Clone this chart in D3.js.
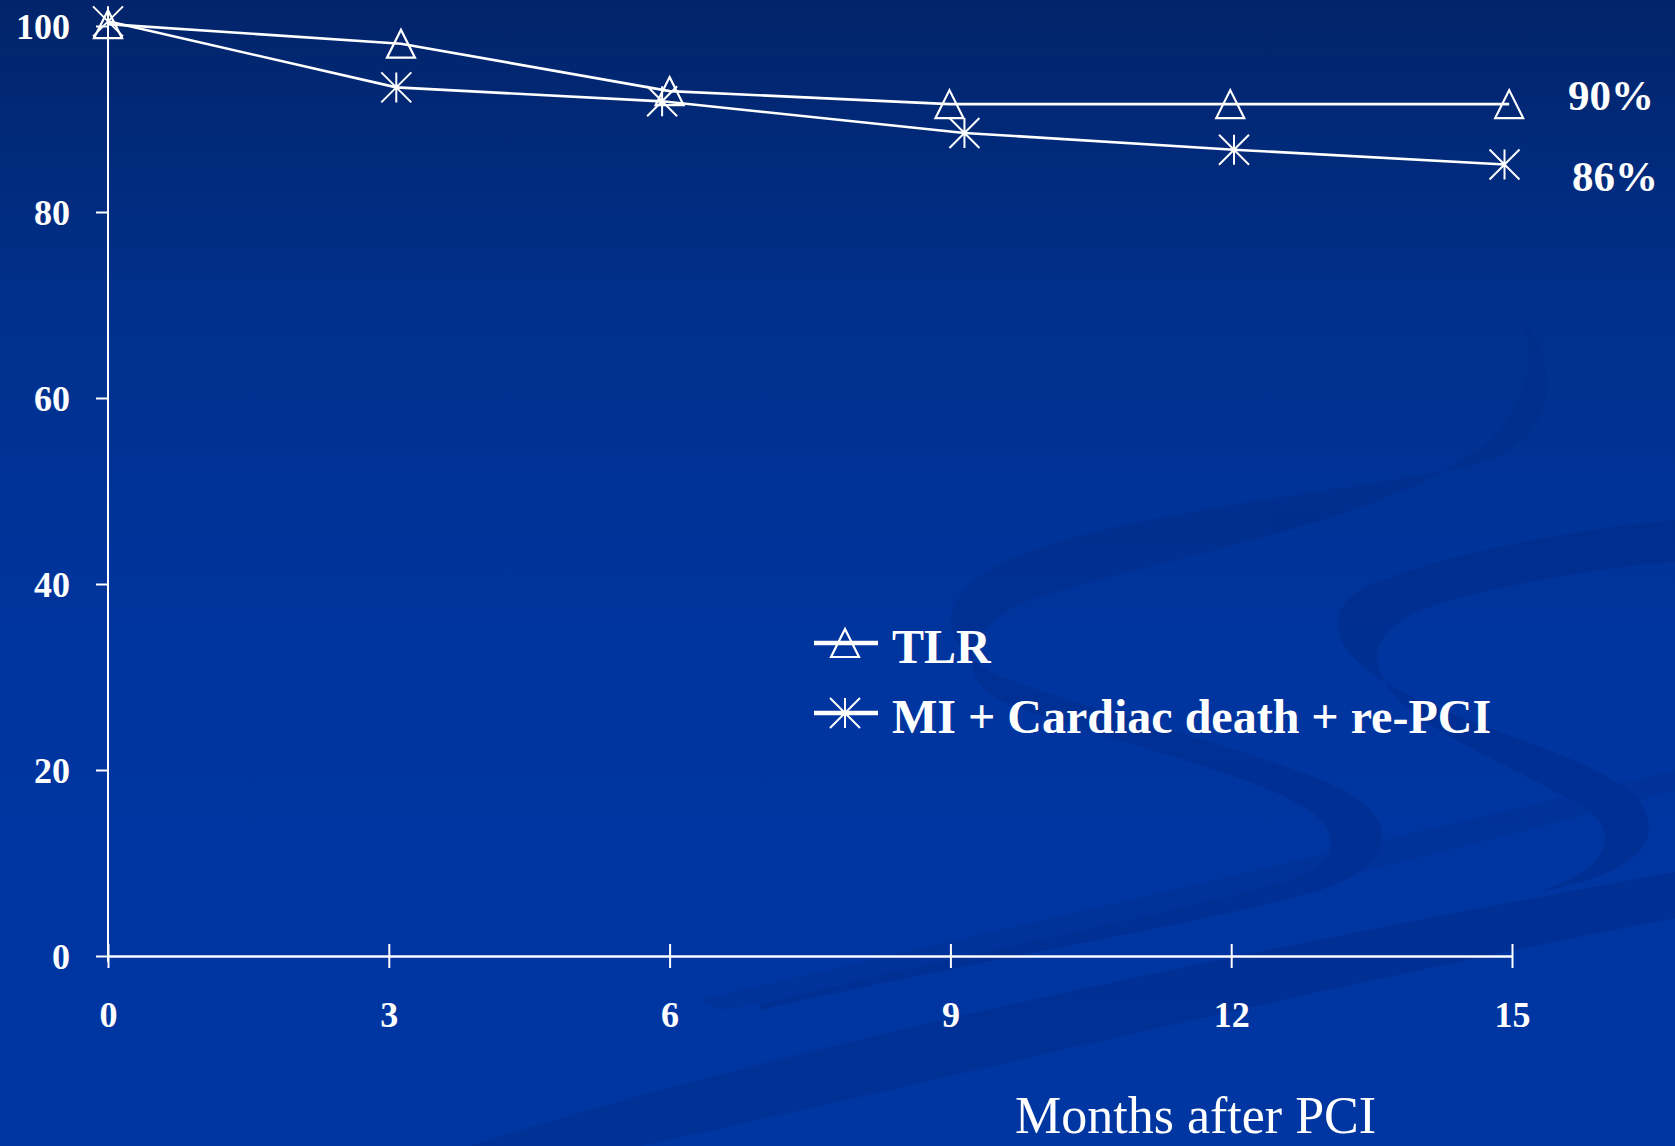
<!DOCTYPE html>
<html>
<head>
<meta charset="utf-8">
<script src="https://cdn.jsdelivr.net/npm/d3@7/dist/d3.min.js"></script>
<style>
  html, body { margin: 0; padding: 0; background: #0033a0; }
  svg { display: block; }
</style>
</head>
<body>
<svg id="chart" width="1675" height="1146"></svg>
<script>
// ---- data ----
const xTicks = [0, 3, 6, 9, 12, 15];
const yTicks = [0, 20, 40, 60, 80, 100];
const tlrMonths = [0, 3.13, 6.0, 8.99, 11.99, 14.97];
const tlrValues = [100.2, 98.1, 93.0, 91.6, 91.6, 91.6];
const miMonths = [0, 3.08, 5.92, 9.15, 12.03, 14.92];
const miValues = [100.5, 93.4, 91.9, 88.5, 86.7, 85.1];
const seriesNames = ["TLR", "MI + Cardiac death + re-PCI"];
const endLabels = ["90%", "86%"];
const xTitle = "Months after PCI";

// ---- layout ----
const W = 1675, H = 1146;
const svg = d3.select("#chart");
const serif = "'Liberation Serif', 'Times New Roman', serif";

// background
const defs = svg.append("defs");
const grad = defs.append("linearGradient").attr("id", "bg")
  .attr("x1", 0).attr("y1", 0).attr("x2", 0).attr("y2", 1);
grad.append("stop").attr("offset", "0%").attr("stop-color", "#02246a");
grad.append("stop").attr("offset", "30%").attr("stop-color", "#00318f");
grad.append("stop").attr("offset", "60%").attr("stop-color", "#0035a0");
grad.append("stop").attr("offset", "100%").attr("stop-color", "#0036a2");
svg.append("rect").attr("width", W).attr("height", H).attr("fill", "url(#bg)");

// decorative swooshes
const deco = svg.append("g").attr("fill", "#002b88").attr("opacity", 0.5);
deco.append("path").attr("d",
  "M1523,322 C1560,360 1560,440 1480,462 C1380,490 1150,505 1020,555 C930,590 930,650 1010,680 " +
  "C1120,720 1300,760 1360,800 C1400,830 1385,870 1320,890 C1200,925 1000,955 760,1010 " +
  "L760,1004 C1000,945 1190,910 1290,880 C1340,862 1345,830 1300,805 C1230,765 1080,735 1000,700 " +
  "C958,680 960,628 1030,600 C1150,560 1400,520 1490,440 C1530,400 1535,350 1523,322 Z");
deco.append("path").attr("d",
  "M1675,520 C1560,530 1420,560 1360,590 C1320,615 1330,660 1420,700 C1520,745 1640,770 1648,820 " +
  "C1656,860 1600,880 1540,892 L1560,884 C1612,860 1620,830 1580,805 C1510,765 1420,730 1390,690 " +
  "C1362,650 1380,620 1450,600 C1540,577 1620,566 1675,562 Z");
deco.append("path").attr("d", "M470,1146 C800,1040 1300,940 1675,872 L1675,918 C1300,990 900,1090 640,1146 Z");
deco.append("path").attr("opacity", 0.5).attr("d", "M700,1000 C1000,930 1350,850 1675,770 L1675,790 C1350,880 1000,960 720,1010 Z");

// scales
const x = d3.scaleLinear().domain([0, 15]).range([108, 1512]);
const y = d3.scaleLinear().domain([0, 100]).range([956, 26]);

// y axis
const yAxis = svg.append("g").attr("transform", `translate(${x(0)},0)`)
  .call(d3.axisLeft(y).tickValues(yTicks).tickSize(12).tickSizeOuter(0).tickPadding(38));
yAxis.select(".domain").attr("stroke", "#fff").attr("stroke-width", 2)
  .attr("d", `M0,${y(100)}V${y(0) + 6}`);
yAxis.selectAll(".tick line").attr("stroke", "#fff").attr("stroke-width", 2);
yAxis.selectAll(".tick text").attr("fill", "#fff").attr("font-family", serif)
  .attr("font-weight", "bold").attr("font-size", 36).attr("dy", "0.34em")
  .attr("text-anchor", "end").attr("x", -38);

// x axis
const xAxis = svg.append("g").attr("transform", `translate(0,${y(0)})`)
  .call(d3.axisBottom(x).tickValues(xTicks).tickSize(12).tickSizeOuter(0).tickPadding(0)
    .tickFormat(d3.format("d")));
xAxis.select(".domain").attr("stroke", "#fff").attr("stroke-width", 2.5);
xAxis.selectAll(".tick line").attr("stroke", "#fff").attr("stroke-width", 2).attr("y1", -12).attr("y2", 12);
xAxis.selectAll(".tick text").attr("fill", "#fff").attr("font-family", serif)
  .attr("font-weight", "bold").attr("font-size", 36).attr("y", 71).attr("dy", 0);

// lines
const line = d3.line().x(d => x(d[0])).y(d => y(d[1]));
const tlrData = tlrMonths.map((m, i) => [m, tlrValues[i]]);
const miData = miMonths.map((m, i) => [m, miValues[i]]);

svg.append("path").datum(tlrData).attr("d", line)
  .attr("fill", "none").attr("stroke", "#fff").attr("stroke-width", 2.6);
svg.append("path").datum(miData).attr("d", line)
  .attr("fill", "none").attr("stroke", "#fff").attr("stroke-width", 2.6);

// markers
function triangle(g, cx, cy) {
  g.append("path").attr("d", `M${cx},${cy - 14}L${cx + 14},${cy + 14}L${cx - 14},${cy + 14}Z`)
    .attr("fill", "none").attr("stroke", "#fff").attr("stroke-width", 2.2).attr("stroke-linejoin", "miter");
}
function asterisk(g, cx, cy) {
  g.append("path").attr("d",
    `M${cx},${cy - 15}V${cy + 15}M${cx - 15},${cy - 15}L${cx + 15},${cy + 15}M${cx + 15},${cy - 15}L${cx - 15},${cy + 15}`)
    .attr("fill", "none").attr("stroke", "#fff").attr("stroke-width", 2);
}
const mk = svg.append("g");
tlrData.forEach(d => triangle(mk, x(d[0]), y(d[1])));
miData.forEach(d => asterisk(mk, x(d[0]), y(d[1])));

// end labels
const labelOffsets = [[56, 6], [60, 26]];
[tlrData, miData].forEach((data, i) => {
  const last = data[data.length - 1];
  svg.append("text").attr("x", x(15) + labelOffsets[i][0]).attr("y", y(last[1]) + labelOffsets[i][1])
    .attr("fill", "#fff").attr("font-family", serif).attr("font-weight", "bold").attr("font-size", 43)
    .text(endLabels[i]);
});

// legend
const lg = svg.append("g");
const legendRows = [643, 713];
seriesNames.forEach((name, i) => {
  const ly = legendRows[i];
  lg.append("line").attr("x1", 814).attr("x2", 878).attr("y1", ly).attr("y2", ly)
    .attr("stroke", "#fff").attr("stroke-width", 4.5);
  if (i === 0) triangle(lg, 845, ly); else asterisk(lg, 845, ly);
  lg.append("text").attr("x", 892).attr("y", ly + 20)
    .attr("fill", "#fff").attr("font-family", serif).attr("font-weight", "bold").attr("font-size", 48)
    .text(name);
});

// x title
svg.append("text").attr("x", 1015).attr("y", 1133)
  .attr("fill", "#fff").attr("font-family", serif).attr("font-size", 52)
  .text(xTitle);
</script>
</body>
</html>
